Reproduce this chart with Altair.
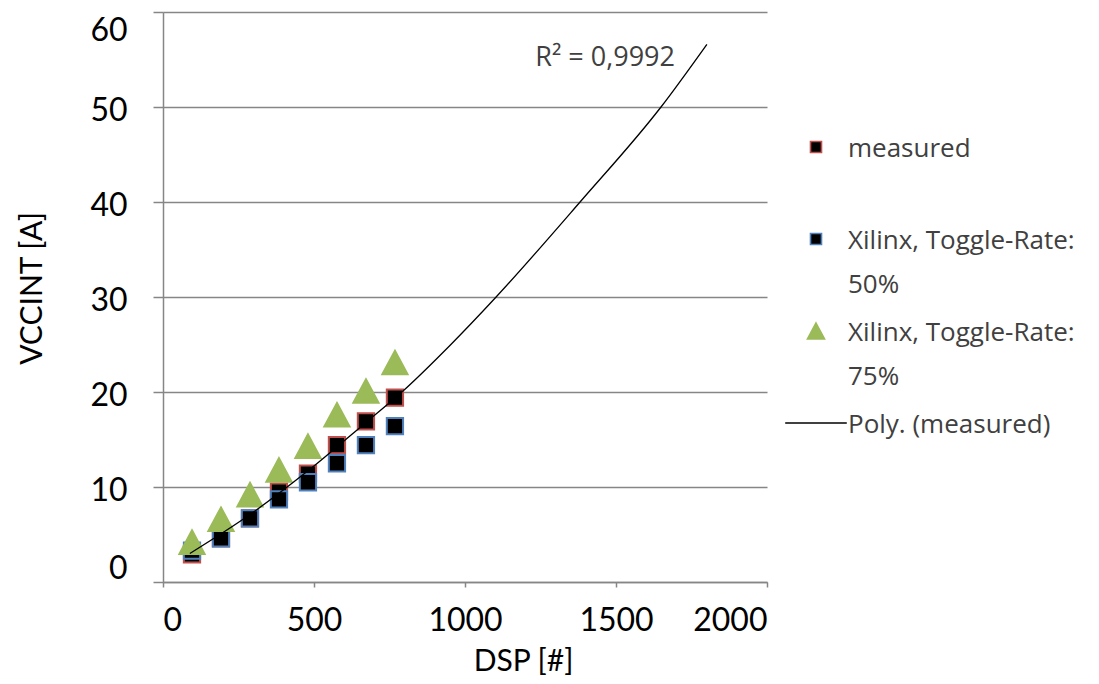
import altair as alt
import pandas as pd

# ---- data ----
dsp = [96, 192, 288, 384, 480, 576, 672, 768]
measured = [2.9, 4.6, 6.7, 9.5, 11.4, 14.4, 16.9, 19.4]
xilinx_50 = [3.3, 4.6, 6.7, 8.7, 10.5, 12.5, 14.4, 16.4]
xilinx_75 = [4.2, 6.6, 9.2, 11.8, 14.3, 17.6, 20.1, 23.1]

trend_x = [89, 288, 480, 672, 791, 950, 1103, 1381, 1649, 1801]
trend_y = [3.0, 7.1, 11.7, 16.8, 20.0, 24.9, 30.0, 40.0, 50.0, 56.6]

series = ["measured", "Xilinx, Toggle-Rate: 50%", "Xilinx, Toggle-Rate: 75%", "Poly. (measured)"]
shapes = ["square", "square", "M0,-1.45L1.55,1.45L-1.55,1.45Z", "M-5.6,0L5.6,0"]
fills = ["black", "black", "#9BBB59", "transparent"]
strokes = ["#C0504D", "#4F81BD", "#9BBB59", "black"]

x_ticks = [0, 500, 1000, 1500, 2000]
y_ticks = [0, 10, 20, 30, 40, 50, 60]

r2_text = ["R² = 0,9992"]
r2_x = [1464]
r2_y = [55.2]

# ---- tables ----
rows = []
for name, vals in [(series[0], measured), (series[1], xilinx_50), (series[2], xilinx_75)]:
    for d, v in zip(dsp, vals):
        rows.append({"dsp": d, "val": v, "series": name})
pts = pd.DataFrame(rows)
trend = pd.DataFrame({"dsp": trend_x, "val": trend_y})
r2 = pd.DataFrame({"dsp": r2_x, "val": r2_y, "label": r2_text})

GRID = "#868686"
DY = 10  # vertical nudge applied to guide labels via style

x_enc = alt.X(
    "dsp:Q",
    scale=alt.Scale(domain=[0, 2000], nice=False, zero=False),
    axis=alt.Axis(
        values=x_ticks, format="d", grid=False, title="DSP [#]", tickSize=5, labelPadding=8,
        labelFont="Lato", labelFontSize=32, labelColor="black",
        titleFont="Lato", titleFontSize=30, titleFontWeight="normal", titleColor="black",
        titleX=360, titleY=88, titleBaseline="alphabetic", titleAlign="center",
        domainColor=GRID, tickColor=GRID, domainWidth=1.5, tickWidth=1.5,
    ),
)
y_enc = alt.Y(
    "val:Q",
    scale=alt.Scale(domain=[0, 60], nice=False),
    axis=alt.Axis(
        values=y_ticks, grid=True, title="VCCINT [A]", tickSize=10, labelPadding=26,
        labelOffset=-DY + 3, labelFlush=True,
        labelFont="Lato", labelFontSize=32, labelColor="black",
        titleFont="Lato", titleFontSize=30, titleFontWeight="normal", titleColor="black",
        titleX=-131, titleY=276, titleAngle=270, titleAlign="center", titleBaseline="middle",
        domainColor=GRID, tickColor=GRID, gridColor=GRID, domainWidth=1.5, tickWidth=1.5,
        gridWidth=1.5,
    ),
)

label_expr = (
    "datum.label == 'measured' ? ['measured', ' '] : "
    "datum.label == 'Xilinx, Toggle-Rate: 50%' ? ['Xilinx, Toggle-Rate:', '50%'] : "
    "datum.label == 'Xilinx, Toggle-Rate: 75%' ? ['Xilinx, Toggle-Rate:', '75%'] : datum.label"
)

legend = alt.Legend(
    title=None, orient="none", legendX=640, legendY=122, padding=0,
    labelExpr=label_expr, labelFont="Open Sans", labelFontSize=26, labelColor="#404040",
    labelBaseline="alphabetic", labelOffset=19, labelLimit=400, rowPadding=20,
    symbolStrokeWidth=1.6, symbolSize=121,
)

points = alt.Chart(pts).mark_point(filled=True, strokeWidth=2, opacity=1, size=265).encode(
    x=x_enc,
    y=y_enc,
    shape=alt.Shape("series:N", scale=alt.Scale(domain=series, range=shapes), legend=legend),
    fill=alt.Fill("series:N", scale=alt.Scale(domain=series, range=fills), legend=legend),
    stroke=alt.Stroke("series:N", scale=alt.Scale(domain=series, range=strokes), legend=legend),
)

line = alt.Chart(trend).mark_line(color="black", strokeWidth=1.3, interpolate="monotone").encode(
    x=alt.X("dsp:Q"), y=alt.Y("val:Q")
)

r2_layer = alt.Chart(r2).mark_text(
    font="Open Sans", fontSize=27, color="#404040", align="center", baseline="middle"
).encode(x=alt.X("dsp:Q"), y=alt.Y("val:Q"), text="label:N")

chart = alt.layer(points, line, r2_layer).properties(
    width=604, height=570,
    autosize=alt.AutoSizeParams(type="none"),
    padding={"left": 155, "top": 4, "right": 324, "bottom": 94},
).configure(
    style={"guide-label": {"dy": DY, "lineHeight": 44}}
).configure_view(stroke=None)

chart.save("out.html", embed_options={"renderer": "svg", "actions": False})
